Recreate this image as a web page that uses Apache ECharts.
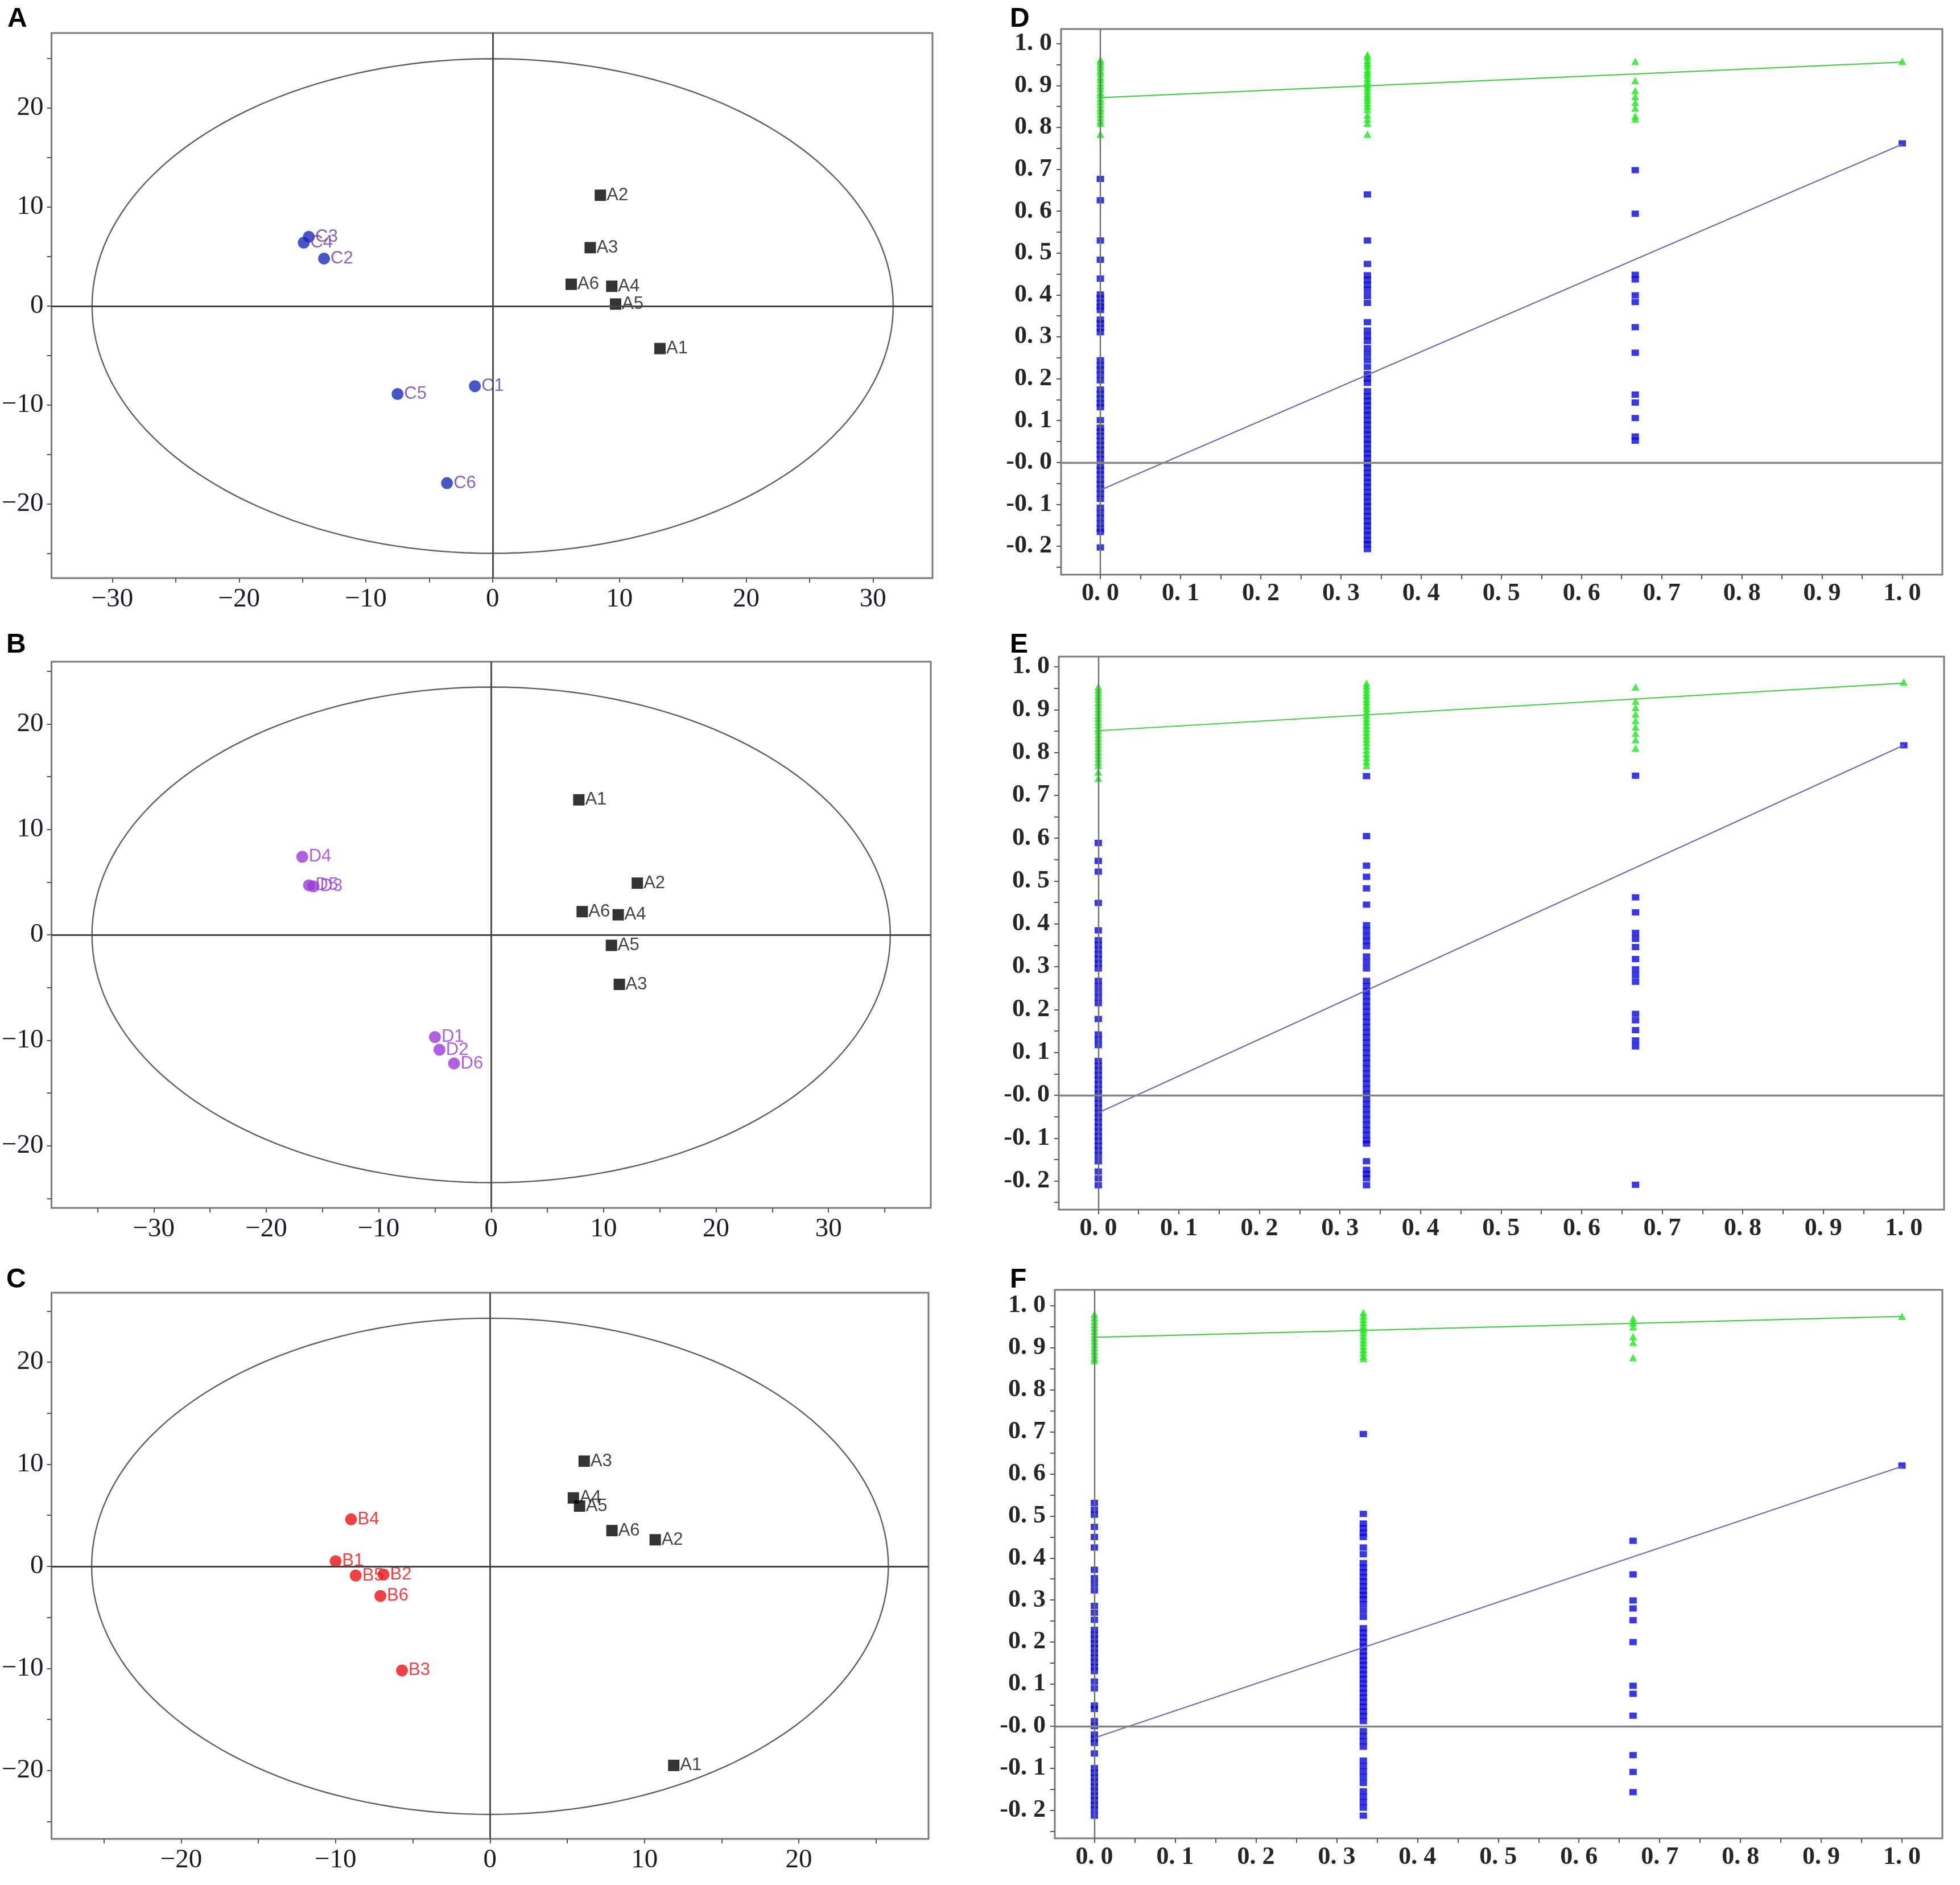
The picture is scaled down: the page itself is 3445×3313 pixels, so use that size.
<!DOCTYPE html>
<html>
<head>
<meta charset="utf-8">
<script src="https://cdn.jsdelivr.net/npm/echarts@6/dist/echarts.min.js"></script>
<style>html,body{margin:0;padding:0;background:#fff}#c{width:3445px;height:3313px}</style>
</head>
<body>
<div id="c"></div>
<script>
// ---------------- Score plots (A, B, C) ----------------
const scoreA_black = [['A1',13.2,-4.3],['A2',8.5,11.2],['A3',7.7,5.9],['A4',9.4,2.0],['A5',9.7,0.2],['A6',6.2,2.2]];
const scoreA_color = [['C1',-1.4,-8.1],['C2',-13.3,4.8],['C3',-14.5,7.0],['C4',-14.9,6.4],['C5',-7.5,-8.9],['C6',-3.6,-17.9]];
const scoreB_black = [['A1',7.8,12.8],['A2',13.0,4.9],['A3',11.4,-4.7],['A4',11.3,1.9],['A5',10.7,-1.0],['A6',8.1,2.2]];
const scoreB_color = [['D1',-5.0,-9.7],['D2',-4.6,-10.9],['D3',-15.8,4.6],['D4',-16.8,7.4],['D5',-16.2,4.7],['D6',-3.3,-12.2]];
const scoreC_black = [['A1',11.9,-19.5],['A2',10.7,2.6],['A3',6.1,10.3],['A4',5.4,6.7],['A5',5.8,5.9],['A6',7.9,3.5]];
const scoreC_color = [['B1',-10.0,0.5],['B2',-6.9,-0.8],['B3',-5.7,-10.2],['B4',-9.0,4.6],['B5',-8.7,-0.9],['B6',-7.1,-2.9]];
// Hotelling T2 ellipse semi-axes [x, y]
const ellipseA = [31.6, 25.0];
const ellipseB = [35.5, 23.5];
const ellipseC = [25.8, 24.3];
// axis ranges and ticks
const rangeA = {x:[-34.8,34.7], y:[-27.5,27.6]};
const rangeB = {x:[-39.1,39.1], y:[-25.9,25.9]};
const rangeC = {x:[-28.4,28.4], y:[-26.7,26.8]};
const labelsAx = [-30,-20,-10,0,10,20,30];
const ticksAx = [-30,-25,-20,-15,-10,-5,0,5,10,15,20,25,30];
const labelsBx = [-30,-20,-10,0,10,20,30];
const ticksBx = [-35,-30,-25,-20,-15,-10,-5,0,5,10,15,20,25,30,35];
const labelsCx = [-20,-10,0,10,20];
const ticksCx = [-25,-20,-15,-10,-5,0,5,10,15,20,25];
const labelsY = [-20,-10,0,10,20];
const ticksY = [-25,-20,-15,-10,-5,0,5,10,15,20,25];

// ---------------- Permutation plots (D, E, F) ----------------
const permX = [0, 0.333, 0.667, 1];
const r2D = [
  [0.962,0.957,0.950,0.944,0.936,0.930,0.921,0.915,0.907,0.900,0.893,0.884,0.878,0.869,0.862,0.855,0.846,0.840,0.832,0.824,0.816,0.810,0.784],
  [0.974,0.968,0.960,0.953,0.947,0.938,0.931,0.925,0.917,0.910,0.902,0.895,0.888,0.880,0.873,0.866,0.858,0.851,0.843,0.830,0.820,0.810,0.784],
  [0.958,0.912,0.888,0.874,0.860,0.846,0.827,0.820],
  [0.958]
];
const q2D = [
  [0.677,0.626,0.530,0.484,0.439,0.401,0.392,0.381,0.372,0.364,0.341,0.332,0.321,0.311,0.244,0.232,0.221,0.209,0.196,0.174,0.163,0.152,0.141,0.132,0.101,0.083,0.074,0.063,0.052,0.041,0.030,0.019,0.008,-0.008,-0.018,-0.029,-0.041,-0.052,-0.063,-0.075,-0.087,-0.108,-0.121,-0.133,-0.146,-0.158,-0.166,-0.203],
  [0.640,0.530,0.474,0.447,0.436,0.424,0.412,0.397,0.381,0.335,0.315,0.302,0.290,0.273,0.259,0.244,0.228,0.211,0.200,0.190,0.170,0.158,0.147,0.136,0.124,0.113,0.101,0.090,0.078,0.067,0.055,0.044,0.032,0.021,0.010,-0.002,-0.013,-0.025,-0.036,-0.048,-0.059,-0.071,-0.082,-0.094,-0.105,-0.117,-0.128,-0.140,-0.151,-0.163,-0.174,-0.186,-0.195,-0.207],
  [0.698,0.594,0.448,0.437,0.399,0.383,0.323,0.262,0.162,0.143,0.106,0.062,0.052],
  [0.762]
];
const r2E = [
  [0.953,0.946,0.939,0.932,0.925,0.917,0.910,0.902,0.895,0.887,0.880,0.872,0.865,0.857,0.850,0.842,0.834,0.826,0.818,0.810,0.802,0.794,0.786,0.778,0.770,0.755,0.740],
  [0.962,0.955,0.948,0.940,0.933,0.925,0.918,0.910,0.903,0.895,0.888,0.880,0.872,0.864,0.856,0.848,0.840,0.832,0.824,0.815,0.806,0.797,0.788,0.779,0.770],
  [0.953,0.920,0.905,0.890,0.875,0.860,0.845,0.830,0.810],
  [0.965]
];
const q2E = [
  [0.589,0.547,0.522,0.449,0.385,0.362,0.351,0.340,0.329,0.318,0.307,0.296,0.267,0.255,0.241,0.228,0.215,0.178,0.142,0.130,0.117,0.080,0.069,0.058,0.047,0.036,0.025,0.014,0.003,-0.008,-0.019,-0.030,-0.041,-0.052,-0.063,-0.074,-0.085,-0.096,-0.107,-0.118,-0.129,-0.140,-0.154,-0.178,-0.194,-0.210],
  [0.745,0.605,0.536,0.510,0.483,0.445,0.397,0.385,0.372,0.360,0.348,0.324,0.310,0.296,0.267,0.255,0.243,0.231,0.219,0.207,0.195,0.183,0.171,0.159,0.147,0.135,0.123,0.111,0.099,0.087,0.075,0.063,0.051,0.039,0.027,0.015,0.003,-0.009,-0.021,-0.033,-0.045,-0.057,-0.069,-0.081,-0.093,-0.105,-0.113,-0.154,-0.174,-0.184,-0.194,-0.210],
  [0.746,0.462,0.427,0.379,0.365,0.346,0.318,0.294,0.280,0.265,0.190,0.175,0.152,0.128,0.114,-0.209],
  [0.817]
];
const r2F = [
  [0.980,0.972,0.964,0.956,0.948,0.940,0.932,0.924,0.916,0.908,0.900,0.892,0.884,0.876,0.870],
  [0.984,0.976,0.968,0.960,0.952,0.944,0.936,0.928,0.920,0.912,0.904,0.896,0.888,0.880,0.875],
  [0.970,0.960,0.950,0.927,0.913,0.877],
  [0.975]
];
const q2F = [
  [0.531,0.515,0.503,0.474,0.450,0.425,0.372,0.352,0.338,0.323,0.286,0.270,0.253,0.229,0.218,0.207,0.196,0.185,0.174,0.163,0.152,0.141,0.131,0.106,0.090,0.049,0.041,0.012,0.000,-0.020,-0.030,-0.040,-0.065,-0.100,-0.111,-0.122,-0.133,-0.144,-0.155,-0.166,-0.177,-0.188,-0.199,-0.213],
  [0.695,0.505,0.482,0.471,0.460,0.450,0.425,0.409,0.388,0.377,0.366,0.355,0.344,0.333,0.322,0.312,0.302,0.290,0.275,0.260,0.233,0.222,0.211,0.200,0.189,0.178,0.167,0.156,0.145,0.134,0.123,0.112,0.101,0.090,0.079,0.068,0.057,0.046,0.035,0.024,0.012,-0.012,-0.024,-0.036,-0.049,-0.082,-0.095,-0.108,-0.121,-0.135,-0.155,-0.168,-0.181,-0.194,-0.213],
  [0.441,0.361,0.299,0.280,0.252,0.200,0.096,0.077,0.025,-0.069,-0.109,-0.157],
  [0.620]
];
// regression lines: values at x = 0 and x = 1
const lineX = [0, 1];
const r2LineD = [0.871, 0.956], q2LineD = [-0.066, 0.760];
const r2LineE = [0.851, 0.962], q2LineE = [-0.041, 0.817];
const r2LineF = [0.925, 0.975], q2LineF = [-0.028, 0.618];
const permRangeX = [-0.049, 1.05];
const permRangeYD = [-0.268, 1.035];
const permRangeYE = [-0.267, 1.024];
const permRangeYF = [-0.267, 1.038];
const permLabelsX = [0,0.1,0.2,0.3,0.4,0.5,0.6,0.7,0.8,0.9,1.0];
const permTicksX = [0,0.05,0.1,0.15,0.2,0.25,0.3,0.35,0.4,0.45,0.5,0.55,0.6,0.65,0.7,0.75,0.8,0.85,0.9,0.95,1.0];
const permLabelsY = [-0.2,-0.1,0,0.1,0.2,0.3,0.4,0.5,0.6,0.7,0.8,0.9,1.0];
const permTicksY = [-0.25,-0.2,-0.15,-0.1,-0.05,0,0.05,0.1,0.15,0.2,0.25,0.3,0.35,0.4,0.45,0.5,0.55,0.6,0.65,0.7,0.75,0.8,0.85,0.9,0.95,1.0];

// ---------------- layout ----------------
const grids = [
  {left:86,  top:58,   width:1553, height:958},   // A
  {left:85,  top:1163, width:1551, height:960},   // B
  {left:79,  top:2272, width:1553, height:960},   // C
  {left:1865,top:51,   width:1549, height:959},   // D
  {left:1861,top:1154, width:1556, height:972},   // E
  {left:1854,top:2267, width:1560, height:964}    // F
].map(g => Object.assign({show:true, borderColor:'#7a7a7a', borderWidth:3, backgroundColor:'transparent'}, g));

const scoreLabelStyle = {fontFamily:'Liberation Serif', fontSize:47, color:'#1a1a28'};
const permLabelStyle = {fontFamily:'Liberation Serif', fontSize:44, fontWeight:'bold', color:'#262626'};
const fmtScore = v => v < 0 ? '\u2212' + Math.abs(v) : String(v);
const fmtPermX = v => v.toFixed(1).replace('.', '. ');
const fmtPermY = v => {
  if (Math.abs(v) < 1e-9) return '-0. 0';
  const s = Math.abs(v).toFixed(1).replace('.', '. ');
  return (v < 0 ? '-' : '') + s;
};

function axisPair(gi, xr, yr, xl, xt, yl, yt, style, fmtX, fmtY, xMargin, yMargin) {
  const common = {
    type:'value', gridIndex:gi,
    axisLine:{show:false, onZero:false},
    splitLine:{show:false}
  };
  return {
    x: Object.assign({}, common, {
      min:xr[0], max:xr[1],
      axisTick:{show:true, customValues:xt, length:8, lineStyle:{color:'#555', width:2}},
      axisLabel:Object.assign({customValues:xl, formatter:fmtX, margin:xMargin}, style)
    }),
    y: Object.assign({}, common, {
      min:yr[0], max:yr[1],
      axisTick:{show:true, customValues:yt, length:8, lineStyle:{color:'#555', width:2}},
      axisLabel:Object.assign({customValues:yl, formatter:fmtY, margin:yMargin}, style)
    })
  };
}

const xAxes = [], yAxes = [], series = [];

function ellipsePts(ax) {
  const pts = [];
  for (let i = 0; i <= 360; i += 2) {
    const t = i * Math.PI / 180;
    pts.push([ax[0] * Math.cos(t), ax[1] * Math.sin(t)]);
  }
  return pts;
}

function addScore(gi, range, xl, xt, ell, black, colored, dotColor, textColor) {
  const a = axisPair(gi, range.x, range.y, xl, xt, labelsY, ticksY, scoreLabelStyle, fmtScore, fmtScore, 14, 14);
  xAxes.push(a.x); yAxes.push(a.y);
  series.push({
    type:'line', xAxisIndex:gi, yAxisIndex:gi, data:ellipsePts(ell), showSymbol:false, symbol:'none',
    lineStyle:{color:'#5e5e5e', width:2.4}, silent:true, z:1,
    markLine:{silent:true, symbol:['none','none'], label:{show:false},
      lineStyle:{color:'#444', width:2.8, type:'solid'},
      data:[{xAxis:0},{yAxis:0}]}
  });
  series.push({
    type:'scatter', xAxisIndex:gi, yAxisIndex:gi, symbol:'rect', symbolSize:20,
    itemStyle:{color:'#000'}, z:3,
    data:black.map(d => ({name:d[0], value:[d[1], d[2]]})),
    label:{show:true, position:'right', distance:1, formatter:'{b}', fontFamily:'Liberation Sans', fontSize:31, color:'#111'}
  });
  series.push({
    type:'scatter', xAxisIndex:gi, yAxisIndex:gi, symbol:'circle', symbolSize:21,
    itemStyle:{color:dotColor}, z:3,
    data:colored.map(d => ({name:d[0], value:[d[1], d[2]]})),
    label:{show:true, position:'right', distance:1, formatter:'{b}', fontFamily:'Liberation Sans', fontSize:31, color:textColor}
  });
}

function addPerm(gi, yr, r2, q2, r2Line, q2Line) {
  const a = axisPair(gi, permRangeX, yr, permLabelsX, permTicksX, permLabelsY, permTicksY, permLabelStyle, fmtPermX, fmtPermY, 12, 16);
  xAxes.push(a.x); yAxes.push(a.y);
  const r2pts = [], q2pts = [];
  permX.forEach((x, i) => {
    r2[i].forEach(v => r2pts.push([x, v]));
    q2[i].forEach(v => q2pts.push([x, v]));
  });
  series.push({
    type:'line', xAxisIndex:gi, yAxisIndex:gi, data:lineX.map((x,i)=>[x, q2Line[i]]),
    showSymbol:false, symbol:'none', lineStyle:{color:'#6c6ca8', width:2.2}, silent:true, z:4,
    markLine:{silent:true, symbol:['none','none'], label:{show:false},
      data:[
        {xAxis:0, lineStyle:{color:'#6e6e6e', width:2.4, type:'solid'}},
        {yAxis:0, lineStyle:{color:'#858585', width:3.4, type:'solid'}}
      ]}
  });
  series.push({
    type:'line', xAxisIndex:gi, yAxisIndex:gi, data:lineX.map((x,i)=>[x, r2Line[i]]),
    showSymbol:false, symbol:'none', lineStyle:{color:'#4fc94f', width:2.2}, silent:true, z:4
  });
  series.push({
    type:'scatter', xAxisIndex:gi, yAxisIndex:gi, symbol:'rect', symbolSize:[13,11],
    itemStyle:{color:'#0808d8'}, data:q2pts, z:3
  });
  series.push({
    type:'scatter', xAxisIndex:gi, yAxisIndex:gi, symbol:'triangle', symbolSize:[14,13],
    itemStyle:{color:'#22e622'}, data:r2pts, z:3
  });
}

addScore(0, rangeA, labelsAx, ticksAx, ellipseA, scoreA_black, scoreA_color, '#1a2ab8', '#6a3d9e');
addScore(1, rangeB, labelsBx, ticksBx, ellipseB, scoreB_black, scoreB_color, '#9a3ad6', '#9a3ad6');
addScore(2, rangeC, labelsCx, ticksCx, ellipseC, scoreC_black, scoreC_color, '#e81216', '#e81216');
addPerm(3, permRangeYD, r2D, q2D, r2LineD, q2LineD);
addPerm(4, permRangeYE, r2E, q2E, r2LineE, q2LineE);
addPerm(5, permRangeYF, r2F, q2F, r2LineF, q2LineF);

const panelLetters = ['A','B','C','D','E','F'];
const letterPos = [[13,10],[11,1110],[11,2226],[1775,10],[1775,1110],[1775,2226]];
const graphic = panelLetters.map((t, i) => ({
  type:'text', left:letterPos[i][0], top:letterPos[i][1],
  style:{text:t, fill:'#000', font:'bold 48px "Liberation Sans"'}
}));

const chart = echarts.init(document.getElementById('c'), null, {renderer:'canvas', width:3445, height:3313});
chart.setOption({
  animation:false,
  backgroundColor:'#ffffff',
  grid:grids,
  xAxis:xAxes,
  yAxis:yAxes,
  series:series,
  graphic:graphic
});
</script>
</body>
</html>
